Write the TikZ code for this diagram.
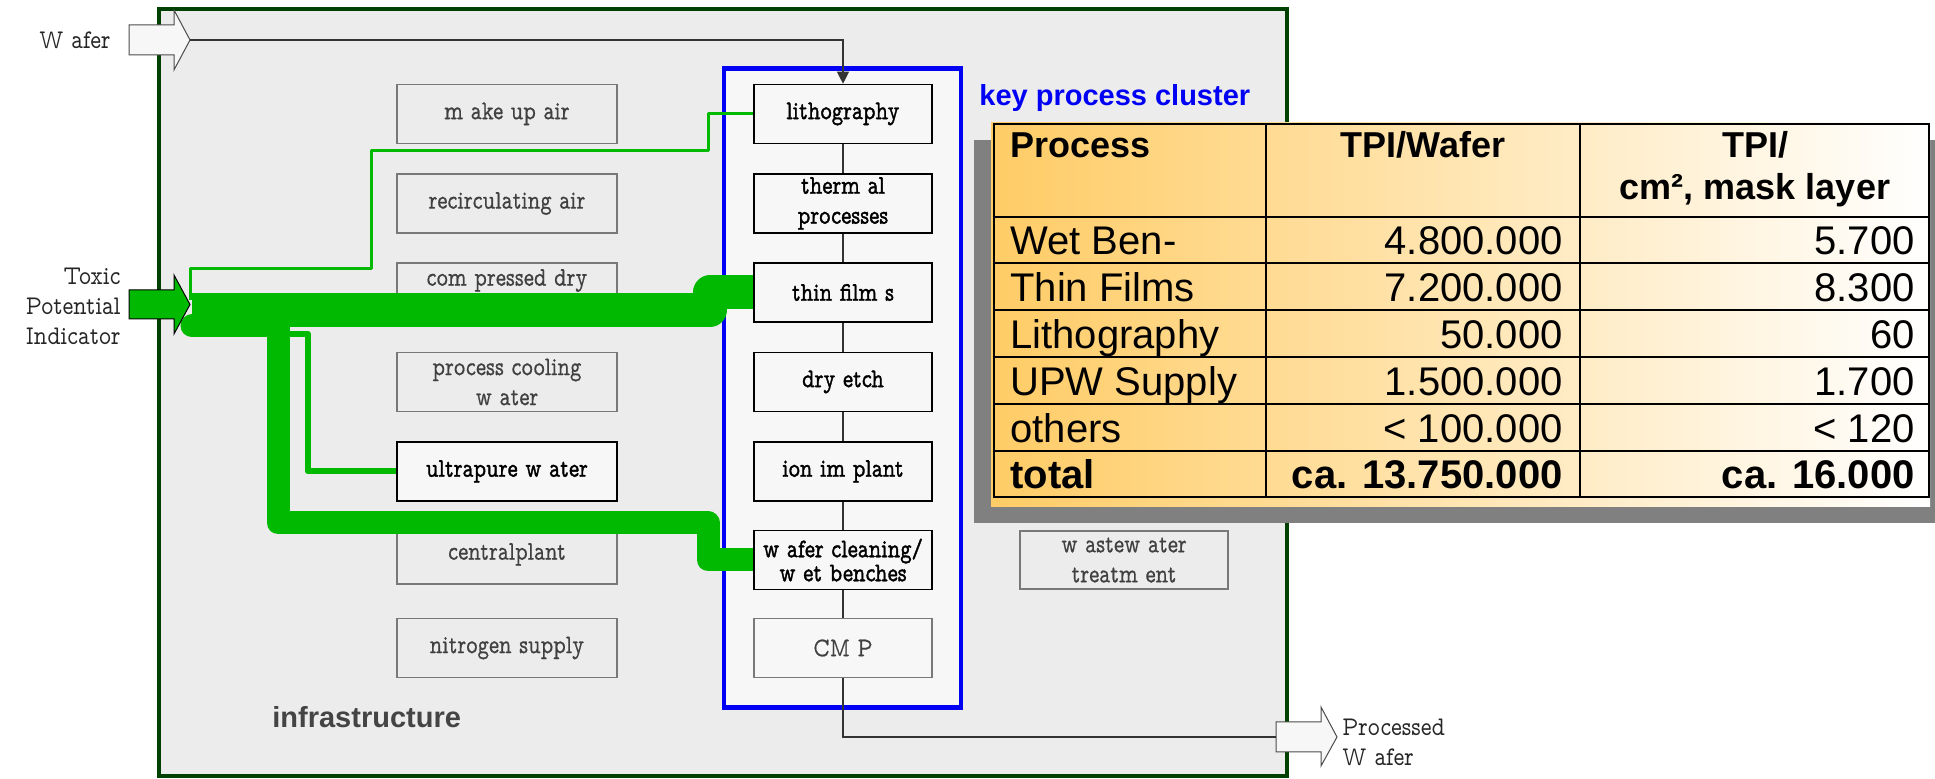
\documentclass[tikz,border=0pt]{standalone}
\usepackage{fontspec}
\usetikzlibrary{arrows.meta}
\newfontfamily\arial{Liberation Sans}
\newfontfamily\tagfont[FakeStretch=0.85]{lmmonoprop10-regular.otf}
\newfontfamily\boxfont[FakeStretch=0.8,FakeBold=1.3]{lmmonoprop10-regular.otf}
\newfontfamily\grayboxfont[FakeStretch=0.8,FakeBold=0.5]{lmmonoprop10-regular.otf}
\definecolor{framegreen}{RGB}{0,64,0}
\definecolor{flowgreen}{RGB}{0,185,0}
\definecolor{panel}{RGB}{236,236,236}
\definecolor{boxfill}{RGB}{247,247,247}
\definecolor{boxline}{RGB}{120,120,120}
\definecolor{boxtext}{RGB}{64,64,64}
\definecolor{keyblue}{RGB}{0,0,245}
\definecolor{tblorange}{RGB}{255,204,102}
\definecolor{shadowgray}{RGB}{128,128,128}
\definecolor{labelgray}{RGB}{68,68,68}
\pgfdeclarelayer{back}
\pgfdeclarelayer{flowlayer}
\pgfsetlayers{back,flowlayer,main}
\begin{document}
\begin{tikzpicture}[x=0.5pt,y=-0.5pt,
  infra/.style={draw=boxline,line width=0.8pt,fill=panel,minimum width=110pt,
    minimum height=29.5pt,inner sep=0pt,align=center,text=boxtext,
    font=\grayboxfont\fontsize{13.5}{15}\selectfont},
  upwbox/.style={infra,draw=black,fill=boxfill,text=black,
    font=\boxfont\fontsize{13.5}{15}\selectfont},
  proc/.style={draw=black,line width=0.8pt,fill=boxfill,minimum width=89pt,
    minimum height=29.5pt,inner sep=0pt,align=center,text=black,
    font=\boxfont\fontsize{13.5}{15}\selectfont},
  procgray/.style={proc,draw=boxline,text=boxtext,
    font=\grayboxfont\fontsize{13.5}{15}\selectfont},
  link/.style={draw=black!80,line width=0.6pt},
  flow/.style={draw=flowgreen,line join=round},
  tag/.style={font=\tagfont\fontsize{13.5}{15}\selectfont,inner sep=0pt,text=black!85},
  thead/.style={font=\arial\bfseries\fontsize{18}{21}\selectfont,inner sep=0pt},
  tcell/.style={font=\arial\fontsize{20}{24}\selectfont,inner sep=0pt},
  tbold/.style={font=\arial\bfseries\fontsize{20}{24}\selectfont,inner sep=0pt},
  grid/.style={draw=black,line width=1.1pt}]
\useasboundingbox (0,0) rectangle (1935,779);

% ---------- containers and infrastructure boxes ----------
\begin{pgfonlayer}{back}
\node[draw=framegreen,line width=1.75pt,fill=panel,minimum width=564pt,
  minimum height=383.5pt,inner sep=0pt] (infra) at (723,392.5) {};
\node[draw=keyblue,line width=2.25pt,fill=boxfill,minimum width=118.5pt,
  minimum height=319.5pt,inner sep=0pt] (cluster) at (842.5,388) {};
\node[infra] (make) at (507,114) {m ake up air};
\node[infra] (recirc) at (507,203.5) {recirculating air};
\node[infra] (cda) at (507,292.5) {com pressed dry\\\mbox{}};
\node[infra] (pcw) at (507,382) {process cooling\\w ater};
\node[upwbox] (upw) at (507,471.5) {ultrapure w ater};
\node[infra] (central) at (507,554.5) {centralplant};
\node[infra] (nitro) at (507,648) {nitrogen supply};
\node[infra,minimum width=104pt,minimum height=29pt] (waste) at (1124,560)
  {w astew ater\\treatm ent};
\end{pgfonlayer}

% ---------- key process boxes ----------
\node[proc] (litho) at (843,114) {lithography};
\node[proc] (therm) at (843,203.5) {therm al\\processes};
\node[proc] (thin) at (843,292.5) {thin film s};
\node[proc] (dry) at (843,382) {dry etch};
\node[proc] (ion) at (843,471.5) {ion im plant};
\node[proc,font=\boxfont\fontsize{13.5}{12}\selectfont] (wclean) at (843,560)
  {w afer cleaning/\\w et benches};
\node[procgray] (cmp) at (843,648) {CM P};
\foreach \a/\b in {litho/therm,therm/thin,thin/dry,dry/ion,ion/wclean,wclean/cmp}
  \draw[link] (\a) -- (\b);

% ---------- toxic potential flows ----------
\coordinate (tpi) at (192,310);
\coordinate (tpiB) at (192,326);
\coordinate (upwtap) at (284,334);
\coordinate (thintap) at (190,300);
\begin{pgfonlayer}{flowlayer}
\draw[flow,line width=11.5pt,line cap=round] (tpiB) -- (278,326) -- (278,523)
  -- (708,523) -- (708,560) -- (wclean.west);
\draw[flow,line width=17pt] (tpi) -- (710,310) -- (710,292.5) -- (thin.west);
\draw[flow,line width=3pt] (upwtap) -- (308,334) -- (308,471.5) -- (upw.west);
\draw[flow,line width=1.5pt] (thintap) -- (190,268.5) -- (371,268.5) -- (371,151)
  -- (708,151) |- (litho.west);
\end{pgfonlayer}

% ---------- input and output arrows ----------
\filldraw[fill=boxfill,draw=black!70,line width=0.5pt] (129,25) -- (174,25) -- (174,10)
  -- (190,40) -- (174,70) -- (174,55) -- (129,55) -- cycle;
\coordinate (wafin) at (190,40);
\filldraw[fill=flowgreen,draw=black,line width=0.5pt] (129,290) -- (174,290) -- (174,275)
  -- (190,304.5) -- (174,334) -- (174,319) -- (129,319) -- cycle;
\filldraw[fill=boxfill,draw=black!70,line width=0.5pt] (1276,722) -- (1321,722) -- (1321,707)
  -- (1337,737) -- (1321,766) -- (1321,752) -- (1276,752) -- cycle;
\coordinate (pwout) at (1276,737);

\draw[link,-{Triangle[length=6pt,width=6pt]}] (wafin) -| (litho.north);
\draw[link] (cmp.south) |- (pwout);

\node[tag,anchor=east] (wlabel) at (111,40) {W afer};
\node[tag,anchor=east,align=right] (tpilabel) at (121,306) {Toxic\\Potential\\Indicator};
\node[tag,anchor=west,align=left] (pwlabel) at (1342,742) {Processed\\W afer};

% ---------- labels ----------
\node[font=\arial\bfseries\fontsize{14.5}{17}\selectfont,text=labelgray,inner sep=0pt,
  anchor=base west] (infralabel) at (272,728) {infrastructure};
\node[font=\arial\bfseries\fontsize{14.5}{17}\selectfont,text=keyblue,inner sep=0pt,
  anchor=base west] (keylabel) at (979,106) {key process cluster};

% ---------- TPI table ----------
\fill[shadowgray] (974,140) rectangle (1935,523);
\shade[left color=tblorange,right color=white] (991,123) rectangle (1930,507);
\draw[grid] (994,124) rectangle (1929,497);
\draw[grid] (1266,124) -- (1266,497) (1580,124) -- (1580,497);
\foreach \y in {217,263,310,357,404,451}
  \draw[grid] (994,\y) -- (1929,\y);

\node[thead,anchor=base west] (hproc) at (1010,158) {Process};
\node[thead,anchor=base] (hwafer) at (1423,158) {TPI/Wafer};
\node[thead,anchor=base] (harea) at (1755,158) {TPI/};
\node[thead,anchor=base] (hareab) at (1755,200) {cm², mask layer};

\foreach \name/\perwafer/\perarea/\base [count=\i] in
  {Wet Ben-/4.800.000/5.700/255, Thin Films/7.200.000/8.300/302,
   Lithography/50.000/60/349, UPW Supply/1.500.000/1.700/396,
   others/< 100.000/< 120/443} {
  \node[tcell,anchor=base west] (r\i a) at (1010,\base) {\name};
  \node[tcell,anchor=base east] (r\i b) at (1563,\base) {\perwafer};
  \node[tcell,anchor=base east] (r\i c) at (1915,\base) {\perarea};
}
\node[tbold,anchor=base west] (ta) at (1010,489) {total};
\node[tbold,anchor=base east] (tb) at (1563,489) {ca. 13.750.000};
\node[tbold,anchor=base east] (tc) at (1915,489) {ca. 16.000};
\end{tikzpicture}
\end{document}
